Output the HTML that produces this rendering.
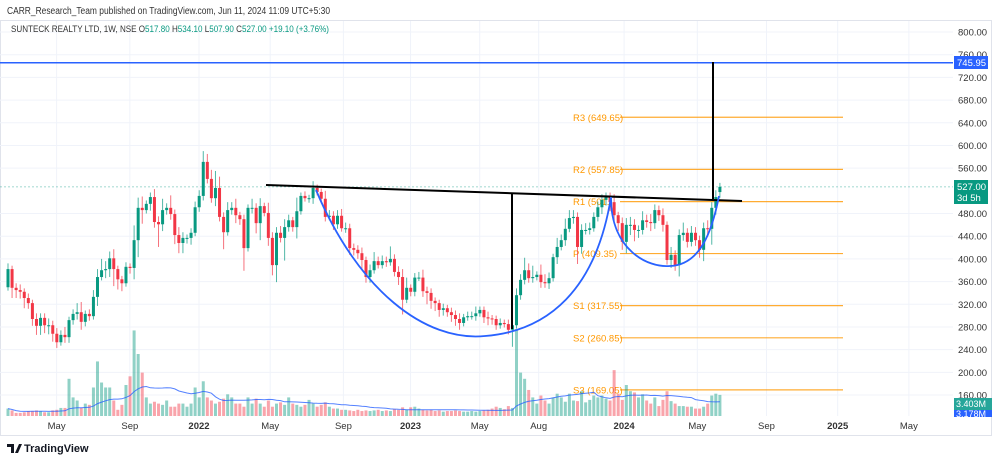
<!DOCTYPE html>
<html><head><meta charset="utf-8"><style>
html,body{margin:0;padding:0;background:#fff;width:1000px;height:460px;overflow:hidden;font-family:"Liberation Sans",sans-serif}
svg text{font-family:"Liberation Sans",sans-serif}
</style></head><body>
<svg id="chart" width="1000" height="460" viewBox="0 0 1000 460" xmlns="http://www.w3.org/2000/svg">
<text x="7" y="14" font-size="10" fill="#333" textLength="323" lengthAdjust="spacingAndGlyphs">CARR_Research_Team published on TradingView.com, Jun 11, 2024 11:09 UTC+5:30</text>
<rect x="0.5" y="20.5" width="991" height="415" fill="none" stroke="#e0e3eb"/>
<g id="grid"></g>
<g id="pivots"></g>
<g id="vol"></g>
<g id="candles"></g>
<line x1="0" y1="62.7" x2="953" y2="62.7" stroke="#2962ff" stroke-width="1.5"/>
<line x1="0" y1="186.9" x2="953" y2="186.9" stroke="#089981" stroke-width="0.8" stroke-dasharray="2,2" opacity="0.5"/>
<line x1="266" y1="185" x2="742" y2="201" stroke="#000" stroke-width="2"/>
<line x1="512" y1="193" x2="512" y2="329" stroke="#000" stroke-width="2"/>
<line x1="713" y1="62" x2="713" y2="199" stroke="#000" stroke-width="2"/>
<path d="M316,190 C358,290 425,342 485,336 C548,331 596,290 611,197" fill="none" stroke="#2962ff" stroke-width="1.8"/>
<path d="M611,198 C611,250 648,268 670,266 C700,265 712,232 719,196" fill="none" stroke="#2962ff" stroke-width="1.8"/>
<g id="axis"></g>
<g id="taxis"></g>
<rect x="954" y="56" width="34" height="13" fill="#2962ff"/>
<text x="957" y="66" font-size="9.5" fill="#fff">745.95</text>
<rect x="954" y="180" width="34" height="24" fill="#089981"/>
<text x="957" y="190" font-size="9.5" fill="#fff">527.00</text>
<text x="957" y="201" font-size="9.5" fill="#fff">3d 5h</text>
<rect x="954" y="398" width="38" height="12" fill="#26a69a"/>
<text x="956" y="407" font-size="9" fill="#fff">3.403M</text>
<rect x="954" y="410" width="38" height="7" fill="#2962ff"/>
<text x="956" y="417" font-size="9" fill="#fff">3.178M</text>
<text x="11" y="32" font-size="9.5" fill="#333" textLength="318" lengthAdjust="spacingAndGlyphs">SUNTECK REALTY LTD, 1W, NSE  O<tspan fill="#089981">517.80</tspan>  H<tspan fill="#089981">534.10</tspan>  L<tspan fill="#089981">507.90</tspan>  C<tspan fill="#089981">527.00</tspan>  <tspan fill="#089981">+19.10 (+3.76%)</tspan></text>
<g>
<path d="M7,444 h7 v9 h-3 v-6 h-4z M15,453 l4,-9 h3 l-4,9z" fill="#131722"/>
<text x="24" y="452" font-size="11" fill="#131722" font-weight="bold">TradingView</text>
</g>
</svg>
<script>
const closes=[382,349,345,342,331,322,294,282,296,283,283,268,253,266,262,292,303,306,289,303,299,333,368,380,382,401,382,364,357,
386,384,433,490,486,497,509,465,461,486,490,479,442,428,437,437,446,491,511,571,541,507,525,474,447,486,490,477,470,
419,490,490,463,493,481,437,389,446,437,456,468,456,484,511,507,507,525,518,506,474,476,461,476,454,454,419,416,410,398,
368,380,396,389,396,394,400,377,368,328,349,342,367,367,343,340,326,322,310,313,306,301,294,287,297,299,299,304,310,
297,295,294,283,287,285,275,283,336,363,380,366,368,372,359,357,366,403,421,433,453,472,474,421,451,451,454,474,491,
504,509,500,477,463,430,460,460,451,451,468,465,463,486,477,460,398,407,389,442,446,430,446,433,416,454,453,490,509,527];
const wickUp=[10,6,8,10,6,8,6,10,8,8,12,8,10,8,14,6,8,16,18,6,8,12,14,20,14,12,16,6,6,
8,6,26,18,20,6,8,14,10,20,8,22,8,14,10,6,8,10,10,19,14,16,30,20,8,14,10,16,6,
8,6,16,8,14,6,18,10,10,12,14,10,6,24,6,8,6,12,6,6,14,10,8,10,12,10,8,8,8,10,
6,10,16,8,10,8,22,8,10,14,18,6,8,10,14,8,8,6,6,8,6,8,8,10,6,8,8,12,6,
6,10,6,6,8,6,8,10,12,10,22,12,20,6,18,14,10,6,16,10,18,14,12,8,10,12,10,8,10,
10,8,8,14,6,10,12,14,10,8,16,10,14,10,8,12,6,14,8,10,18,8,12,10,8,10,14,10,12,7];
const wickDn=[6,18,14,12,18,10,12,16,16,14,16,14,10,6,10,10,8,10,14,8,8,6,16,6,14,14,30,18,14,
6,10,20,30,24,6,12,10,40,12,8,10,16,18,18,10,12,6,8,8,8,8,14,8,30,6,8,14,10,
40,6,10,18,30,6,14,18,30,8,40,8,8,20,6,6,8,10,6,8,8,6,10,8,6,8,12,10,10,16,
10,10,6,6,6,8,6,8,14,26,6,8,8,6,10,20,14,14,12,10,8,12,12,12,6,6,6,8,6,
10,12,10,8,6,6,8,30,6,8,8,8,8,6,10,8,10,6,12,6,10,6,10,30,12,8,8,6,8,
12,10,16,10,14,14,20,18,20,14,8,10,14,10,10,12,8,14,10,20,10,10,8,10,14,20,14,28,12,10];
const volumes=[1.2,0.9,0.5,0.5,0.6,0.8,0.8,0.9,0.8,0.6,0.6,0.9,1.0,1.3,1.3,6.0,3.0,2.5,1.3,2.0,1.8,4.6,8.8,5.4,4.6,4.6,2.5,1.0,1.8,
5.0,6.4,13.8,10.0,7.0,3.0,2.0,2.3,2.0,1.8,2.5,1.5,1.5,2.0,2.0,1.5,2.0,4.6,3.0,5.6,3.0,2.5,2.0,2.3,2.8,3.5,3.0,2.0,2.0,
1.5,3.0,2.0,2.8,2.0,1.5,2.5,1.5,2.0,2.2,1.8,3.0,2.0,1.8,1.5,1.8,2.6,2.0,1.5,1.8,2.2,1.5,1.2,1.2,1.0,1.0,0.9,0.8,1.0,0.8,
0.9,0.8,0.9,1.0,0.8,0.9,0.8,1.1,1.0,1.4,1.0,1.4,1.5,1.2,1.0,0.9,1.0,0.8,0.9,0.7,0.8,0.8,0.9,0.8,0.7,0.7,0.8,0.7,0.8,
0.9,1.0,1.2,1.5,1.3,1.1,1.6,1.3,14.0,7.0,6.0,4.2,3.0,2.0,3.3,2.5,2.0,3.0,3.6,3.0,2.3,3.6,2.5,2.4,4.0,2.2,2.6,3.3,3.0,
3.3,2.8,2.5,7.4,3.6,2.6,5.0,4.0,3.8,3.0,3.5,2.5,2.0,3.0,1.6,2.6,4.0,2.4,2.0,1.6,1.6,1.5,1.5,1.2,1.2,1.5,2.0,3.3,3.6,3.403];
const firstOpen=350, lastOpen=517.8;
const priceTicks=[800,760,720,680,640,600,560,480,440,400,360,320,280,240,200,160];
const timeLabels=["May","Sep","2022","May","Sep","2023","May","Aug","2024","May","Sep","2025","May"];
const timeWeeks=[-35,-17,0,17.5,35.5,52,69,83.5,104.5,122.5,139.5,157,174.5];
const pivotNames=["R3","R2","R1","P","S1","S2","S3"];
const pivotValues=[649.65,557.85,501,409.35,317.55,260.85,169.05];

const NS="http://www.w3.org/2000/svg";
const Y=p=>32+(800-p)*0.5672;
const X=i=>8+i*4.068;
const XW=w=>199+w*4.068;
const VY=v=>416-v*6.2;
function mk(tag,parent,attrs){const e=document.createElementNS(NS,tag);for(const k in attrs)e.setAttribute(k,attrs[k]);parent.appendChild(e);return e;}
const grid=document.getElementById('grid');
priceTicks.forEach(p=>{const l=mk('line',grid,{x1:0,x2:953,y1:Y(p),y2:Y(p),stroke:'#f0f3fa'});

});
timeWeeks.forEach(w=>{const l=mk('line',grid,{x1:XW(w),x2:XW(w),y1:21,y2:416,stroke:'#f0f3fa'});

});
const axis=document.getElementById('axis');
priceTicks.forEach(p=>{const t=mk('text',axis,{x:958,y:Y(p)+3.5,'font-size':9.5,fill:'#333'});t.textContent=p.toFixed(2);

});
const taxis=document.getElementById('taxis');
timeLabels.forEach((s,i)=>{const t=mk('text',taxis,{x:XW(timeWeeks[i]),y:429,'font-size':9.5,fill:'#333','text-anchor':'middle','font-weight':/^\d/.test(s)?'bold':'normal'});t.textContent=s;

});
const piv=document.getElementById('pivots');
pivotNames.forEach((n,i)=>{const y=Y(pivotValues[i]);
const l=mk('line',piv,{x1:620,x2:843,y1:y,y2:y,stroke:'#ff9800','stroke-width':1.2,opacity:0.8});


const t=mk('text',piv,{x:573,y:y+3.5,'font-size':9.5,fill:'#ff9800'});t.textContent=n+' ('+pivotValues[i].toFixed(2).replace(/^501\.00$/,'501.')+')';

});
const cg=document.getElementById('candles'), vg=document.getElementById('vol');
closes.forEach((c,i)=>{
 const o=i===0?firstOpen:(i===closes.length-1?lastOpen:closes[i-1]);
 const up=c>=o, col=up?'#089981':'#f23645';
 const hi=Math.max(o,c)+wickUp[i], lo=Math.min(o,c)-wickDn[i], x=X(i);
 const w=mk('line',cg,{x1:x,x2:x,y1:Y(hi),y2:Y(lo),stroke:col,'stroke-width':1,opacity:0.7});
 
 
 const top=Y(Math.max(o,c)),bh=Math.max(1,Y(Math.min(o,c))-top);
 const b=mk('rect',cg,{x:x-1.5,y:top,width:3,height:bh,fill:col});
 
 
 const v=mk('rect',vg,{x:x-1.5,y:VY(volumes[i]),width:3,height:416-VY(volumes[i]),fill:up?'rgba(8,153,129,0.45)':'rgba(242,54,69,0.45)'});
 
 
});
let pts=[];volumes.forEach((v,i)=>{const s=volumes.slice(Math.max(0,i-19),i+1);const m=s.reduce((a,b)=>a+b,0)/s.length;pts.push(X(i).toFixed(1)+','+VY(m).toFixed(1));});
const ma=mk('polyline',vg,{points:pts.join(' '),fill:'none',stroke:'#2962ff','stroke-width':1,opacity:0.8});


</script>
</body></html>
